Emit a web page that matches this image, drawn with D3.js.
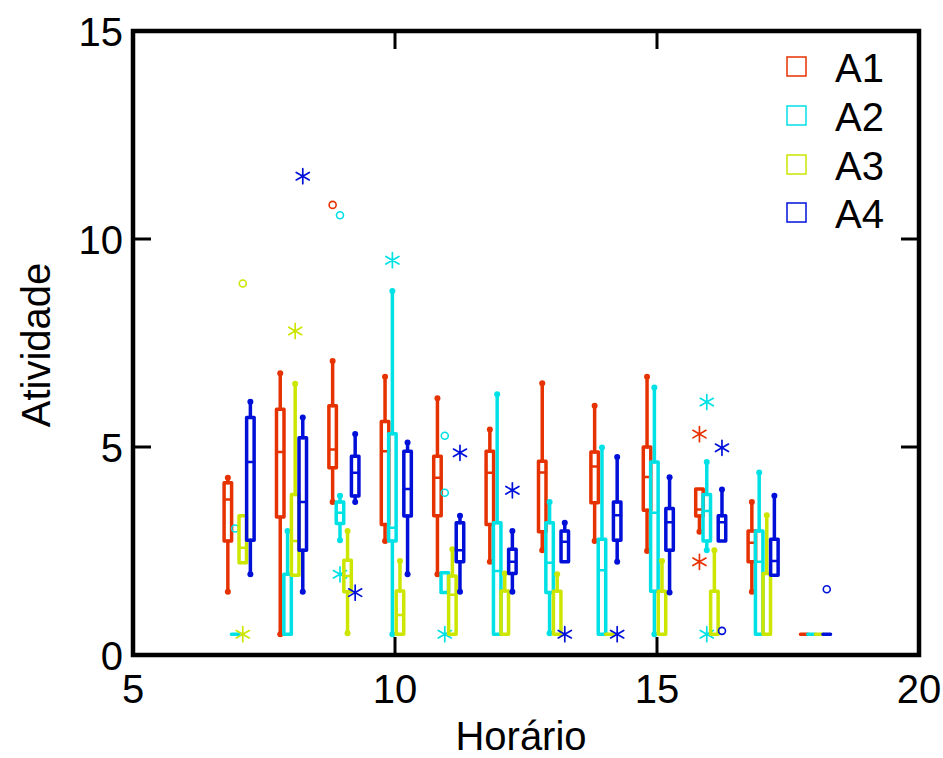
<!DOCTYPE html>
<html>
<head>
<meta charset="utf-8">
<script src="https://cdn.jsdelivr.net/npm/d3@7"></script>
<style>
  body { margin: 0; background: #fff; }
  text { font-family: "Liberation Sans", Arial, sans-serif; }
</style>
</head>
<body>
<svg id="chart" width="943" height="758"></svg>
<script>
// hours on the x axis
let hours = [7, 8, 9, 10, 11, 12, 13, 14, 15, 16, 17, 18];
let seriesNames = ["A1", "A2", "A3", "A4"];
let colors = ["#e63200", "#00e1e6", "#cce600", "#0010d9"];

// each entry: [lower whisker, q1, median, q3, upper whisker]
let a1 = [
    [1.52, 2.74, 3.74, 4.14, 4.26],
    [0.5, 3.32, 4.88, 5.91, 6.77],
    [3.68, 4.5, 4.94, 5.99, 7.07],
    [2.74, 3.14, 4.9, 5.61, 6.69],
    [1.94, 3.35, 4.26, 4.78, 6.17],
    [2.24, 3.14, 4.38, 4.9, 5.42],
    [2.52, 2.96, 4.39, 4.66, 6.53],
    [2.74, 3.66, 4.53, 4.88, 5.99],
    [2.5, 3.48, 4.28, 5.0, 6.69],
    [2.96, 3.34, 3.5, 3.99, 3.99],
    [1.52, 2.24, 2.7, 2.98, 3.68],
    [0.5, 0.5, 0.5, 0.5, 0.5]
];
let a2 = [
    [0.5, 0.5, 0.5, 0.5, 0.5],
    [0.5, 0.5, 0.5, 1.94, 2.98],
    [2.76, 3.16, 3.42, 3.68, 3.83],
    [0.5, 2.74, 3.06, 5.32, 8.75],
    [1.5, 1.5, 1.5, 1.98, 1.98],
    [0.5, 0.5, 2.02, 3.18, 6.27],
    [0.52, 1.5, 2.22, 3.18, 3.68],
    [0.5, 0.5, 2.04, 2.78, 4.99],
    [0.5, 1.53, 3.42, 4.64, 6.43],
    [2.52, 2.74, 3.46, 3.86, 4.64],
    [0.5, 0.5, 2.24, 2.98, 4.39],
    [0.5, 0.5, 0.5, 0.5, 0.5]
];
let a3 = [
    [2.22, 2.22, 2.58, 3.35, 3.35],
    [1.92, 1.92, 2.74, 3.86, 6.52],
    [0.52, 1.52, 1.9, 2.28, 2.98],
    [0.5, 0.5, 0.96, 1.54, 2.26],
    [0.5, 0.5, 1.45, 1.9, 2.54],
    [0.5, 0.5, 0.5, 1.54, 1.96],
    [0.5, 0.5, 0.5, 1.53, 1.94],
    [0.5, 0.5, 0.5, 0.5, 0.5],
    [0.5, 0.5, 0.5, 1.53, 2.26],
    [0.5, 0.5, 0.5, 1.53, 2.52],
    [0.5, 0.5, 0.5, 1.96, 3.36],
    [0.5, 0.5, 0.5, 0.5, 0.5]
];
let a4 = [
    [1.94, 2.76, 4.64, 5.71, 6.09],
    [1.52, 2.52, 3.68, 5.22, 5.71],
    [3.68, 3.82, 4.38, 4.78, 5.31],
    [1.94, 3.34, 3.99, 4.9, 5.11],
    [1.52, 2.24, 2.52, 3.18, 3.35],
    [1.52, 1.96, 2.24, 2.54, 2.98],
    [2.24, 2.24, 2.72, 2.98, 3.18],
    [2.24, 2.76, 3.36, 3.68, 4.76],
    [1.5, 2.52, 3.19, 3.52, 4.27],
    [2.74, 2.74, 3.19, 3.35, 3.98],
    [1.92, 1.92, 2.26, 2.78, 3.83],
    [0.5, 0.5, 0.5, 0.5, 0.5]
];

// outliers: [hour, value, marker] ("o" circle, "*" asterisk)
let a1Out = [[9, 10.82, "o"], [16, 5.31, "*"], [16, 2.24, "*"]];
let a2Out = [[7, 3.04, "o"], [9, 10.57, "o"], [9, 1.94, "*"], [10, 9.49, "*"],
             [11, 5.27, "o"], [11, 3.9, "o"], [11, 0.5, "*"], [16, 6.08, "*"], [16, 0.5, "*"]];
let a3Out = [[7, 0.5, "*"], [7, 8.93, "o"], [8, 7.79, "*"]];
let a4Out = [[8, 11.51, "*"], [9, 1.5, "*"], [11, 4.86, "*"], [12, 3.96, "*"], [13, 0.5, "*"],
             [14, 0.5, "*"], [16, 4.98, "*"], [16, 0.58, "o"], [18, 1.58, "o"]];

let xTicks = [5, 10, 15, 20];
let yTicks = [0, 5, 10, 15];

window.onload = function() {
    var svg = d3.select("#chart");
    var left = 133, right = 919, top = 31, bottom = 655;

    var x = d3.scaleLinear().domain([5, 20]).range([left, right]);
    var y = d3.scaleLinear().domain([0, 15]).range([bottom, top]);

    let allBoxes = [a1, a2, a3, a4];
    let allOut = [a1Out, a2Out, a3Out, a4Out];
    let offsets = [-0.19, -0.05, 0.095, 0.24];
    let bw = 7.5;

    allBoxes.forEach(function(boxes, s) {
        var g = svg.append("g")
            .style("stroke", colors[s])
            .style("fill", "none")
            .attr("stroke-width", 3.5)
            .attr("stroke-linecap", "round")
            .attr("stroke-linejoin", "round");

        boxes.forEach(function(b, i) {
            var cx = x(hours[i] + offsets[s]);
            // whiskers
            if (b[0] < b[1]) {
                g.append("line").attr("x1", cx).attr("x2", cx)
                    .attr("y1", y(b[0])).attr("y2", y(b[1]));
                g.append("circle").attr("cx", cx).attr("cy", y(b[0])).attr("r", 3)
                    .style("fill", colors[s]).style("stroke", "none");
            }
            if (b[4] > b[3]) {
                g.append("line").attr("x1", cx).attr("x2", cx)
                    .attr("y1", y(b[3])).attr("y2", y(b[4]));
                g.append("circle").attr("cx", cx).attr("cy", y(b[4])).attr("r", 3)
                    .style("fill", colors[s]).style("stroke", "none");
            }
            // box
            var x0 = cx - bw / 2, x1 = cx + bw / 2;
            var path = "M" + x0 + "," + y(b[1]) + "L" + x1 + "," + y(b[1]) +
                "L" + x1 + "," + y(b[3]) + "L" + x0 + "," + y(b[3]) + "Z";
            g.append("path").attr("d", path);
            // median
            g.append("line").attr("x1", x0).attr("x2", x1)
                .attr("y1", y(b[2])).attr("y2", y(b[2]))
                .attr("stroke-width", 2.5);
        });

        allOut[s].forEach(function(o) {
            var ox = x(o[0] + offsets[s]), oy = y(o[1]);
            if (o[2] === "o") {
                g.append("circle").attr("cx", ox).attr("cy", oy).attr("r", 3.5)
                    .attr("stroke-width", 1.6);
            } else {
                g.append("path")
                    .attr("d", d3.symbol(d3.symbolAsterisk, 160)())
                    .attr("transform", "translate(" + ox + "," + oy + ")")
                    .attr("stroke-width", 1.7);
            }
        });
    });

    // frame
    svg.append("rect")
        .attr("x", left).attr("y", top)
        .attr("width", right - left).attr("height", bottom - top)
        .style("fill", "none").style("stroke", "#000").attr("stroke-width", 4.5);

    // ticks (inside, on all four sides)
    var tickLen = 18;
    var ax = svg.append("g").style("stroke", "#000").attr("stroke-width", 3);
    xTicks.slice(1, -1).forEach(function(t) {
        ax.append("line").attr("x1", x(t)).attr("x2", x(t)).attr("y1", bottom).attr("y2", bottom - tickLen);
        ax.append("line").attr("x1", x(t)).attr("x2", x(t)).attr("y1", top).attr("y2", top + tickLen);
    });
    yTicks.slice(1, -1).forEach(function(t) {
        ax.append("line").attr("x1", left).attr("x2", left + tickLen).attr("y1", y(t)).attr("y2", y(t));
        ax.append("line").attr("x1", right).attr("x2", right - tickLen).attr("y1", y(t)).attr("y2", y(t));
    });

    // tick labels
    svg.selectAll(".xl").data(xTicks).enter().append("text")
        .attr("x", d => x(d)).attr("y", 703)
        .attr("text-anchor", "middle")
        .style("font-size", "40px")
        .text(d => d);
    svg.selectAll(".yl").data(yTicks).enter().append("text")
        .attr("x", 123).attr("y", d => y(d) + 15)
        .attr("text-anchor", "end")
        .style("font-size", "40px")
        .text(d => d);

    // axis titles
    svg.append("text").attr("x", 521).attr("y", 750)
        .attr("text-anchor", "middle").style("font-size", "40px").text("Horário");
    svg.append("text")
        .attr("transform", "translate(50,345) rotate(-90)")
        .attr("text-anchor", "middle").style("font-size", "40px").text("Atividade");

    // legend
    var legY = [57, 106, 155, 203];
    seriesNames.forEach(function(name, i) {
        svg.append("rect").attr("x", 787).attr("y", legY[i])
            .attr("width", 19).attr("height", 19)
            .style("fill", "none").style("stroke", colors[i]).attr("stroke-width", 1.5);
        svg.append("text").attr("x", 835).attr("y", legY[i] + 25)
            .style("font-size", "40px").text(name);
    });
};
</script>
</body>
</html>
